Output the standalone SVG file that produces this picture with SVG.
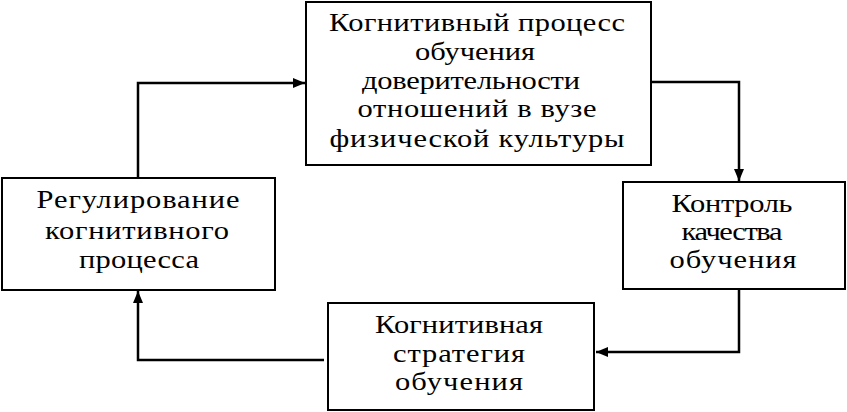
<svg xmlns="http://www.w3.org/2000/svg" width="847" height="412" viewBox="0 0 847 412">
<style>
.box{fill:#fff;stroke:#000;stroke-width:2}
.c{fill:none;stroke:#000;stroke-width:2.5}
</style>
<defs>
<marker id="ah" viewBox="0 0 12 10" refX="12" refY="5" markerWidth="12" markerHeight="10" markerUnits="userSpaceOnUse" orient="auto">
<path d="M0,0 L12,5 L0,10 Z" fill="#000"/>
</marker>
</defs>
<rect width="847" height="412" fill="#fff"/>
<g id="connectors">
<path class="c" d="M651,82 H739 V181" marker-end="url(#ah)"/>
<path class="c" d="M739,289 V352 H596" marker-end="url(#ah)"/>
<path class="c" d="M324,360 H138 V291" marker-end="url(#ah)"/>
<path class="c" d="M138,178 V83 H305" marker-end="url(#ah)"/>
</g>
<g id="n1" font-family="Liberation Serif, Times New Roman, serif" font-size="25" text-anchor="middle" fill="#000">
<rect class="box" x="306" y="2" width="345" height="163"/>
<text transform="matrix(1.22 0 0 1 477 31)" textLength="242.6" lengthAdjust="spacing">Когнитивный процесс</text>
<text transform="matrix(1.22 0 0 1 475 60)" textLength="98.4" lengthAdjust="spacing">обучения</text>
<text transform="matrix(1.22 0 0 1 471 89)" textLength="178.7" lengthAdjust="spacing">доверительности</text>
<text transform="matrix(1.22 0 0 1 477 117)" textLength="195.9" lengthAdjust="spacing">отношений в вузе</text>
<text transform="matrix(1.22 0 0 1 477 147)" textLength="241.8" lengthAdjust="spacing">физической культуры</text>
</g>
<g id="n2" font-family="Liberation Serif, Times New Roman, serif" font-size="25" text-anchor="middle" fill="#000">
<rect class="box" x="623" y="182" width="222" height="107"/>
<text transform="matrix(1.22 0 0 1 732 212)" textLength="99.2" lengthAdjust="spacing">Контроль</text>
<text transform="matrix(1.22 0 0 1 732 240)" textLength="82.8" lengthAdjust="spacing">качества</text>
<text transform="matrix(1.22 0 0 1 733 268)" textLength="104.1" lengthAdjust="spacing">обучения</text>
</g>
<g id="n3" font-family="Liberation Serif, Times New Roman, serif" font-size="25" text-anchor="middle" fill="#000">
<rect class="box" x="328" y="303" width="266" height="107"/>
<text transform="matrix(1.22 0 0 1 459 333)" textLength="137.7" lengthAdjust="spacing">Когнитивная</text>
<text transform="matrix(1.22 0 0 1 459 362)" textLength="108.2" lengthAdjust="spacing">стратегия</text>
<text transform="matrix(1.22 0 0 1 459 390)" textLength="104.9" lengthAdjust="spacing">обучения</text>
</g>
<g id="n4" font-family="Liberation Serif, Times New Roman, serif" font-size="25" text-anchor="middle" fill="#000">
<rect class="box" x="2" y="178" width="273" height="112"/>
<text transform="matrix(1.22 0 0 1 138 208)" textLength="166.4" lengthAdjust="spacing">Регулирование</text>
<text transform="matrix(1.22 0 0 1 137 239)" textLength="150.8" lengthAdjust="spacing">когнитивного</text>
<text transform="matrix(1.22 0 0 1 139 268)" textLength="98.4" lengthAdjust="spacing">процесса</text>
</g>
</svg>
